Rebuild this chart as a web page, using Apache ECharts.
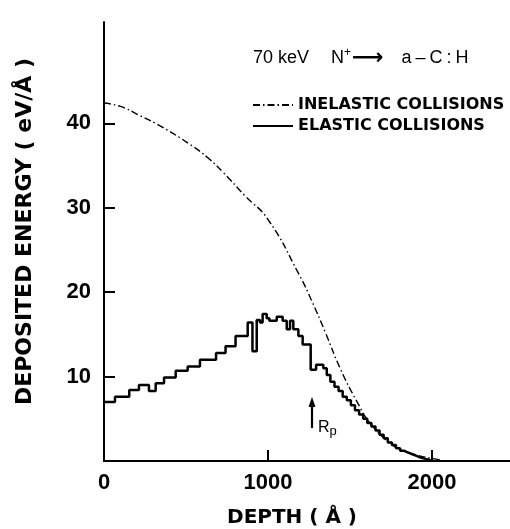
<!DOCTYPE html>
<html>
<head>
<meta charset="utf-8">
<script src="https://cdn.jsdelivr.net/npm/echarts@6/dist/echarts.min.js"></script>
<style>html,body{margin:0;padding:0;background:#fff}#c{width:510px;height:529px}</style>
</head>
<body>
<div id="c"></div>
<script>
// Inelastic collisions (smooth curve): depth (Å) and deposited energy (eV/Å)
const inelasticDepth  = [0, 100, 220, 350, 524, 640, 726, 860, 1000, 1189, 1268, 1348, 1439, 1543, 1622, 1744, 1830, 1909, 2000, 2060];
const inelasticEnergy = [42.4, 42.0, 40.9, 39.6, 37.5, 35.8, 34.2, 31.4, 28.6, 22.1, 18.9, 15.3, 11.0, 7.0, 4.5, 2.1, 1.2, 0.7, 0.3, 0.1];

// Elastic collisions (histogram): left bin edges (Å) and energies (eV/Å)
const elasticEdges = [0, 67, 154, 213, 274, 315, 366, 437, 510, 585, 683, 741, 802, 876, 905, 931, 951, 967, 992, 1008, 1053, 1089, 1114, 1134, 1154, 1185, 1211, 1260, 1293, 1337, 1358, 1380, 1405, 1430, 1455, 1480, 1505, 1530, 1555, 1580, 1605, 1630, 1655, 1680, 1705, 1730, 1755, 1780, 1805, 1830, 1855, 1880, 1905, 1930, 1960];
const elasticEnergy = [7.0, 7.6, 8.4, 9.0, 8.3, 9.2, 9.9, 10.7, 11.2, 12.0, 12.8, 13.6, 14.8, 16.4, 13.0, 16.7, 16.4, 17.4, 16.9, 16.6, 17.1, 16.6, 15.6, 16.6, 15.6, 14.8, 13.8, 10.8, 11.4, 11.0, 10.2, 9.4, 8.8, 8.3, 7.6, 7.2, 6.6, 6.0, 5.5, 5.0, 4.5, 4.1, 3.6, 3.1, 2.7, 2.2, 1.9, 1.5, 1.2, 1.0, 0.8, 0.6, 0.4, 0.25, 0.1];
const elasticLastEdge = 1990;

// Projected range marker
const rpDepth = 1268;
const rpArrow = [3.9, 7.0];
const rpLabel = [1362, 3.9];

const xTicks = [0, 1000, 2000];
const yTicks = [10, 20, 30, 40];

const inelasticData = inelasticDepth.map((d, i) => [d, inelasticEnergy[i]]);
const elasticData = elasticEdges.map((d, i) => [d, elasticEnergy[i]]);
elasticData.push([elasticLastEdge, elasticEnergy[elasticEnergy.length - 1]]);
elasticData.push([elasticLastEdge, 0]);

const numFont = 'Liberation Sans';
const capFont = 'DejaVu Sans';

const chart = echarts.init(document.getElementById('c'), null, {renderer: 'canvas'});
chart.setOption({
  animation: false,
  backgroundColor: '#fff',
  title: {
    left: 253, top: 47, padding: 0,
    text: '{a|70 keV}{n|N}{s|+}{ar|⟶}{b|a}{c|–}{c|C}{c|:}{c|H}',
    textStyle: {
      fontWeight: 'normal',
      rich: {
        a: {fontFamily: numFont, fontSize: 18, fontWeight: 'normal', color: '#000'},
        n: {fontFamily: numFont, fontSize: 18, fontWeight: 'normal', color: '#000', padding: [0, 0, 0, 22]},
        s: {fontFamily: numFont, fontSize: 12, fontWeight: 'normal', color: '#000', verticalAlign: 'top', padding: [0, 0, 8, 0]},
        ar: {fontFamily: capFont, fontSize: 22, fontWeight: 'bold', color: '#000', padding: [0, 0, 0, 1]},
        b: {fontFamily: numFont, fontSize: 18, fontWeight: 'normal', color: '#000', padding: [0, 0, 0, 18]},
        c: {fontFamily: numFont, fontSize: 18, fontWeight: 'normal', color: '#000', padding: [0, 0, 0, 4]}
      }
    }
  },
  legend: {
    orient: 'vertical', left: 252, top: 97, padding: 0,
    itemWidth: 40, itemHeight: 12, itemGap: 5,
    itemStyle: {opacity: 0},
    textStyle: {fontFamily: capFont, fontWeight: 'bold', fontSize: 16, color: '#000'},
    data: ['INELASTIC COLLISIONS', 'ELASTIC COLLISIONS']
  },
  grid: {left: 104, top: 22, right: 0, bottom: 68, containLabel: false, outerBoundsMode: 'none'},
  xAxis: {
    type: 'value', min: 0, max: 2475, interval: 1000,
    name: 'DEPTH ( Å )', nameLocation: 'middle', nameGap: 47,
    nameTextStyle: {fontFamily: capFont, fontWeight: 'bold', fontSize: 20, color: '#000', padding: [0, 30, 0, 0]},
    axisLine: {lineStyle: {color: '#000', width: 2}},
    axisTick: {inside: true, length: 11, lineStyle: {color: '#000', width: 2}, customValues: xTicks},
    axisLabel: {fontFamily: numFont, fontWeight: 'bold', fontSize: 22, color: '#000', margin: 11, customValues: xTicks,
      formatter: v => (xTicks.indexOf(v) >= 0 ? String(v) : '')},
    splitLine: {show: false}
  },
  yAxis: {
    type: 'value', min: 0, max: 52, interval: 10,
    name: 'DEPOSITED ENERGY ( eV/Å )', nameLocation: 'middle', nameGap: 68,
    nameTextStyle: {fontFamily: capFont, fontWeight: 'bold', fontSize: 22, color: '#000', padding: [0, 0, 0, 20]},
    axisLine: {lineStyle: {color: '#000', width: 2}},
    axisTick: {inside: true, length: 11, lineStyle: {color: '#000', width: 2}, customValues: yTicks},
    axisLabel: {fontFamily: numFont, fontWeight: 'bold', fontSize: 22, color: '#000', margin: 13, customValues: yTicks,
      formatter: v => (yTicks.indexOf(v) >= 0 ? String(v) : '')},
    splitLine: {show: false}
  },
  series: [
    {
      name: 'INELASTIC COLLISIONS', type: 'line', data: inelasticData,
      smooth: 0.5, symbol: 'none', showSymbol: false,
      lineStyle: {color: '#000', width: 1.4, type: [7, 3, 1.5, 3]},
      itemStyle: {color: '#000'}, z: 2
    },
    {
      name: 'ELASTIC COLLISIONS', type: 'line', data: elasticData,
      step: 'end', symbol: 'none', showSymbol: false,
      lineStyle: {color: '#000', width: 2.5},
      itemStyle: {color: '#000'}, z: 3,
      markLine: {
        silent: true, symbol: ['none', 'triangle'], symbolSize: [7, 10],
        label: {show: false},
        lineStyle: {color: '#000', width: 2.2, type: 'solid'},
        data: [[{coord: [rpDepth, rpArrow[0]]}, {coord: [rpDepth, rpArrow[1]]}]]
      },
      markPoint: {
        silent: true, symbol: 'circle', symbolSize: 0,
        label: {
          show: true, position: 'inside',
          formatter: '{r|R}{p|p}',
          rich: {
            r: {fontFamily: numFont, fontSize: 16, color: '#000'},
            p: {fontFamily: numFont, fontSize: 13, color: '#000', verticalAlign: 'bottom', padding: [6, 0, 0, 0]}
          }
        },
        data: [{coord: rpLabel}]
      }
    }
  ]
});
</script>
</body>
</html>
